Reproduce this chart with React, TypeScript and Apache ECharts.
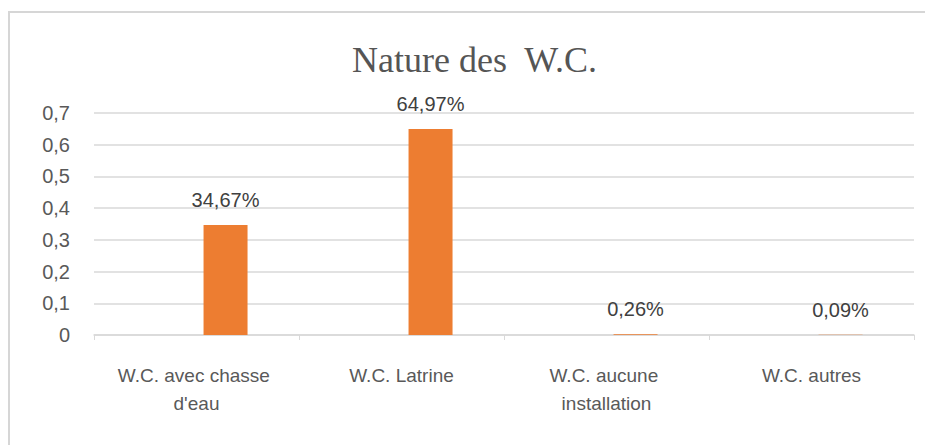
import React, { useEffect, useRef } from "react";
import * as echarts from "echarts";

const categories = [
  "W.C. avec chasse d'eau",
  "W.C. Latrine",
  "W.C. aucune installation",
  "W.C. autres",
];
const values = [0.3467, 0.6497, 0.0026, 0.0009];
const emptySeries = [null, null, null, null];
const titleText = "Nature des  W.C.";

export default function App() {
  const ref = useRef<HTMLDivElement>(null);
  useEffect(() => {
    const chart = echarts.init(ref.current!, undefined, { renderer: "svg" });
    chart.setOption({
      animation: false,
      backgroundColor: "#ffffff",
      title: {
        text: titleText,
        left: 347,
        top: 37,
        textStyle: {
          fontFamily: "Liberation Serif",
          fontWeight: "normal",
          fontSize: 36,
          color: "#555555",
        },
      },
      graphic: [
        {
          type: "rect",
          shape: { x: 9, y: 12, width: 940, height: 470 },
          style: { fill: "none", stroke: "#d6d6d6", lineWidth: 2 },
          silent: true,
        },
      ],
      grid: { left: 94, right: 11, top: 113, bottom: 110 },
      xAxis: {
        type: "category",
        data: categories,
        axisLine: { lineStyle: { color: "#d9d9d9", width: 1.5 } },
        axisTick: { show: true, length: 5, lineStyle: { color: "#d9d9d9" } },
        axisLabel: {
          fontFamily: "Liberation Sans",
          fontSize: 19,
          color: "#595959",
          margin: 26,
          lineHeight: 28,
          width: 175,
          overflow: "break",
          interval: 0,
        },
      },
      yAxis: {
        type: "value",
        min: 0,
        max: 0.7,
        interval: 0.1,
        axisLine: { show: false },
        axisTick: { show: false },
        splitLine: { lineStyle: { color: "#d9d9d9", width: 1.5 } },
        axisLabel: {
          fontFamily: "Liberation Sans",
          fontSize: 20,
          color: "#595959",
          margin: 24,
          formatter: (v: number) => String(Math.round(v * 10) / 10).replace(".", ","),
        },
      },
      series: [
        {
          type: "bar",
          data: emptySeries,
          barWidth: 44,
          barGap: "32%",
          itemStyle: { color: "#4472C4" },
        },
        {
          type: "bar",
          data: values,
          barWidth: 44,
          barGap: "32%",
          itemStyle: { color: "#ED7D31" },
          label: {
            show: true,
            position: "top",
            distance: 15,
            fontFamily: "Liberation Sans",
            fontSize: 20,
            color: "#404040",
            formatter: (p: any) => (p.value * 100).toFixed(2).replace(".", ",") + "%",
          },
        },
      ],
    });
    return () => chart.dispose();
  }, []);
  return (
    <div
      ref={ref}
      style={{ position: "fixed", left: 0, top: 0, width: 925, height: 445 }}
    />
  );
}
